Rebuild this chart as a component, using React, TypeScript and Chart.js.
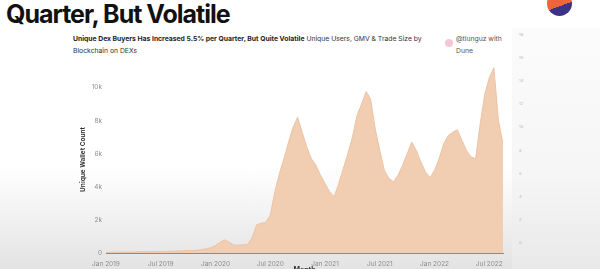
import React, { useEffect, useRef } from "react";
import { Chart, registerables } from "chart.js";

Chart.register(...registerables);

// Half-month resolution, starting Jan 2019
const monthStep = 0.5;
const uniqueBuyers = [
  40, 45, 50, 55, 60, 60, 65, 70, 70, 75, 80, 85,
  90, 95, 100, 110, 120, 130, 140, 150, 170, 200, 250, 320,
  450, 650, 790, 650, 480, 470, 500, 520, 900, 1700, 1800, 1850,
  2300, 3700, 4800, 5700, 6700, 7600, 8200, 7300, 6400, 5700, 5300, 4700,
  4200, 3700, 3400, 4200, 5100, 6000, 7000, 8300, 9000, 9760, 9300, 7500,
  6200, 5000, 4500, 4300, 4700, 5300, 6000, 6700, 6200, 5500, 4900, 4550,
  5000, 5700, 6600, 7100, 7300, 7450, 6800, 6200, 5800, 5700, 7800, 9600,
  10600, 11200, 8000, 6600,
];
const xTickMonths = [0, 6, 12, 18, 24, 30, 36, 42];
const xTickLabels = ["Jan 2019", "Jul 2019", "Jan 2020", "Jul 2020", "Jan 2021", "Jul 2021", "Jan 2022", "Jul 2022"];
const yTickValues = [0, 2000, 4000, 6000, 8000, 10000];
const yTickLabels = ["0", "2k", "4k", "6k", "8k", "10k"];
const rightAxisLabels = ["18", "16", "14", "12", "10", "8", "6", "4", "2", "0"];

export default function App() {
  const ref = useRef<HTMLCanvasElement>(null);
  useEffect(() => {
    const ctx = ref.current!;
    const chart = new Chart(ctx, {
      type: "line",
      data: {
        datasets: [
          {
            data: uniqueBuyers.map((v, i) => ({ x: i * monthStep, y: v })),
            fill: "origin",
            backgroundColor: "#f1cdb1",
            borderColor: "#ecc3a4",
            borderWidth: 1,
            pointRadius: 0,
            tension: 0,
          },
        ],
      },
      options: {
        animation: false,
        responsive: false,
        maintainAspectRatio: false,
        layout: { padding: { left: 19, top: 11, right: 17, bottom: 5 } },
        plugins: { legend: { display: false }, tooltip: { enabled: false } },
        scales: {
          x: {
            type: "linear",
            min: 0,
            max: (uniqueBuyers.length - 1) * monthStep,
            grid: { display: false, drawTicks: false },
            border: { display: true, color: "#8a8a8a", width: 1 },
            afterBuildTicks: (s: any) => {
              s.ticks = xTickMonths.map((v) => ({ value: v }));
            },
            afterFit: (s: any) => {
              s.height = 21;
            },
            ticks: {
              autoSkip: false,
              maxRotation: 0,
              padding: 7,
              color: "#8d8d8d",
              font: { family: "Inter", size: 6.5 },
              callback: (v: any) => xTickLabels[xTickMonths.indexOf(Number(v))] ?? "",
            },
            title: {
              display: true,
              text: "Month",
              color: "#333",
              padding: { top: 1, bottom: 0 },
              font: { family: "Inter", size: 7, weight: "bold" },
            },
          },
          y: {
            min: 0,
            max: 11300,
            grid: { display: false, drawTicks: false },
            border: { display: false },
            afterBuildTicks: (s: any) => {
              s.ticks = yTickValues.map((v) => ({ value: v }));
            },
            afterFit: (s: any) => {
              s.width = 27;
            },
            ticks: {
              padding: 4,
              color: "#8d8d8d",
              font: { family: "Inter", size: 6.5 },
              callback: (v: any) => yTickLabels[yTickValues.indexOf(Number(v))] ?? "",
            },
            title: {
              display: true,
              text: "Unique Wallet Count",
              color: "#333",
              padding: { top: 0, bottom: 2 },
              font: { family: "Inter", size: 6.5, weight: "bold" },
            },
          },
        },
      },
    });
    return () => chart.destroy();
  }, []);

  return (
    <div
      style={{
        position: "fixed",
        left: 0,
        top: 0,
        width: 600,
        height: 269,
        overflow: "hidden",
        background: "linear-gradient(to bottom, #ffffff 0%, #ffffff 62%, #e3e3e3 100%)",
        fontFamily: "Inter, sans-serif",
      }}
    >
      <div
        style={{
          position: "absolute",
          left: 512,
          top: 28,
          width: 88,
          height: 241,
          background: "linear-gradient(to bottom, #fbfbfb 0%, #f6f6f6 60%, #e9e9e9 100%)",
        }}
      />
      <div
        style={{
          position: "absolute",
          left: 547,
          top: -9,
          width: 25,
          height: 25,
          borderRadius: "50%",
          background: "linear-gradient(160deg, #ef6438 0%, #ef6438 58%, #3b3486 58%, #3b3486 100%)",
        }}
      />
      <div
        style={{
          position: "absolute",
          left: 6,
          top: 0,
          fontSize: 25,
          fontWeight: 700,
          letterSpacing: -1,
          lineHeight: "28px",
          color: "#111",
          whiteSpace: "nowrap",
        }}
      >
        Quarter, But Volatile
      </div>
      <div
        style={{
          position: "absolute",
          left: 73,
          top: 33,
          width: 375,
          fontSize: 6.8,
          lineHeight: "12px",
          color: "#333",
        }}
      >
        <b style={{ color: "#222" }}>Unique Dex Buyers Has Increased 5.5% per Quarter, But Quite Volatile</b>{" "}
        Unique Users, GMV &amp; Trade Size by Blockchain on DEXs
      </div>
      <div
        style={{
          position: "absolute",
          left: 445,
          top: 39,
          width: 8,
          height: 8,
          borderRadius: "50%",
          background: "#f5c6d4",
        }}
      />
      <div
        style={{
          position: "absolute",
          left: 456,
          top: 33,
          width: 60,
          fontSize: 6.8,
          lineHeight: "12px",
          color: "#555",
        }}
      >
        @tlunguz with Dune
      </div>
      {rightAxisLabels.map((t, i) => (
        <div
          key={i}
          style={{
            position: "absolute",
            left: 519,
            top: 32 + i * 23.1,
            fontSize: 4,
            color: "#b5b5b5",
          }}
        >
          {t}
        </div>
      ))}
      <canvas
        ref={ref}
        width={460}
        height={224}
        style={{ position: "absolute", left: 60, top: 55, width: 460, height: 224 }}
      />
    </div>
  );
}
